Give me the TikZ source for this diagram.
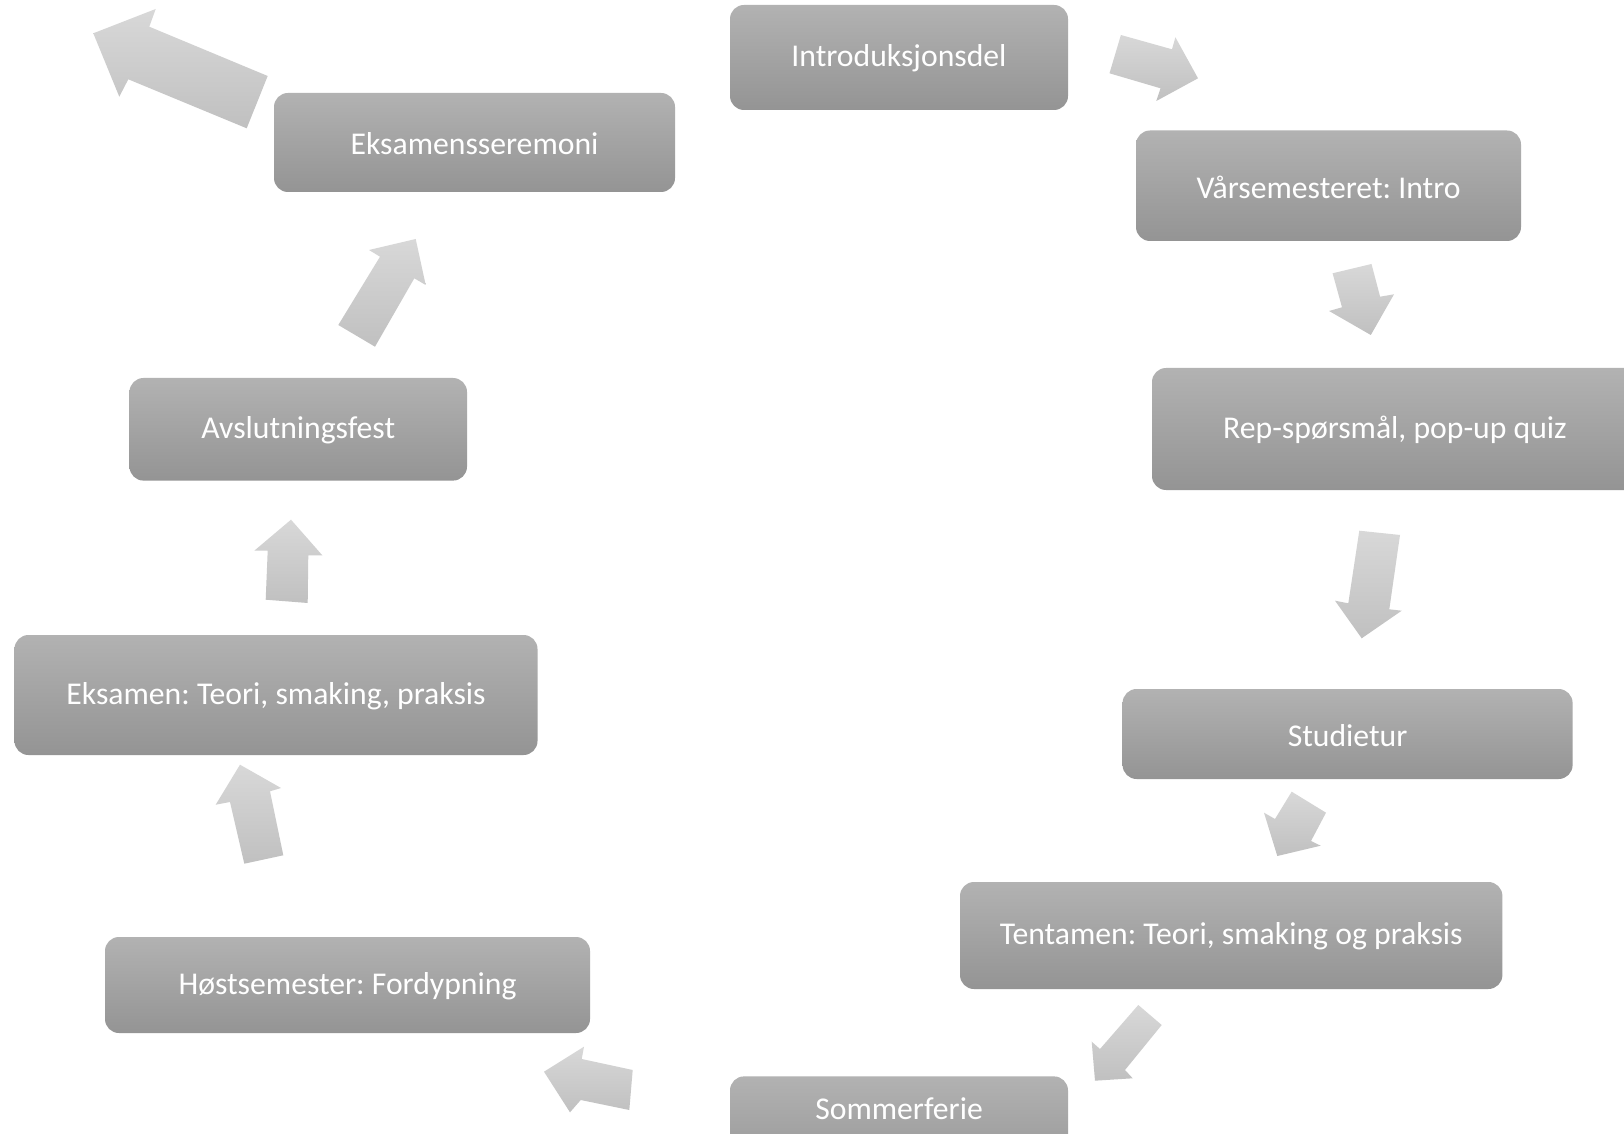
\documentclass[tikz,border=0pt]{standalone}
\usepackage{fontspec}
\setmainfont{Carlito}
\frenchspacing
\definecolor{boxtop}{RGB}{178,178,178}
\definecolor{boxbot}{RGB}{148,148,148}
\definecolor{arrtop}{RGB}{216,216,216}
\definecolor{arrbot}{RGB}{192,192,192}
\tikzset{
  stagebox/.style={rectangle, rounded corners=7pt, top color=boxtop, bottom color=boxbot, draw=none, inner sep=0pt},
  stagetext/.style={text=white, font=\fontsize{15.85pt}{19pt}\selectfont, inner sep=0pt, yshift=-0.6pt},
  blockarrow/.style={top color=arrtop, bottom color=arrbot, draw=none}
}
\begin{document}
\begin{tikzpicture}[x=0.5pt, y=-0.5pt]
\useasboundingbox[fill=white] (0,0) rectangle (1624,1134);
\clip (0,0) rectangle (1624,1134);

% boxes
\node[stagebox, minimum width=169pt, minimum height=52.5pt] (intro) at (899,57.5) {};
\node[stagetext] (introtxt) at (intro.center) {Introduksjonsdel};

\node[stagebox, minimum width=200.5pt, minimum height=49.5pt] (seremoni) at (474.5,142.5) {};
\node[stagetext] (seremonitxt) at (seremoni.center) {Eksamensseremoni};

\node[stagebox, minimum width=192.5pt, minimum height=55.25pt] (vaar) at (1328.5,185.75) {};
\node[stagetext] (vaartxt) at (vaar.center) {Vårsemesteret: Intro};

\node[stagebox, minimum width=243pt, minimum height=61pt] (rep) at (1395,429) {};
\node[stagetext] (reptxt) at (rep.center) {Rep-spørsmål, pop-up quiz};

\node[stagebox, minimum width=168.75pt, minimum height=51.3pt] (avsl) at (298.25,429.3) {};
\node[stagetext] (avsltxt) at (avsl.center) {Avslutningsfest};

\node[stagebox, minimum width=261.5pt, minimum height=60pt] (eksamen) at (276,695) {};
\node[stagetext] (eksamentxt) at (eksamen.center) {Eksamen: Teori, smaking, praksis};

\node[stagebox, minimum width=225pt, minimum height=45pt] (studietur) at (1347.6,734) {};
\node[stagetext] (studieturtxt) at (studietur.center) {Studietur};

\node[stagebox, minimum width=271.2pt, minimum height=53.5pt] (tentamen) at (1231.2,935.5) {};
\node[stagetext] (tentamentxt) at (tentamen.center) {Tentamen: Teori, smaking og praksis};

\node[stagebox, minimum width=242.5pt, minimum height=48pt] (hoest) at (347.5,985) {};
\node[stagetext] (hoesttxt) at (hoest.center) {Høstsemester: Fordypning};

\node[stagebox, minimum width=169pt, minimum height=52.5pt, anchor=north] (sommer) at (899,1076) {};
\node[stagetext] (sommertxt) at (899,1107) {Sommerferie};

% block arrows
\shade[blockarrow] (93.3,33.3) -- (155.7,9) -- (149.3,26.7) -- (267.7,76) -- (246.7,128.3) -- (128.3,79.3) -- (119.3,96.7) -- cycle;
\shade[blockarrow] (1120.9,35) -- (1172,49.3) -- (1175.4,37.3) -- (1198,78.3) -- (1156.3,101) -- (1160.5,88.3) -- (1109.5,73.3) -- cycle;
\shade[blockarrow] (1332.6,273.3) -- (1371.5,264) -- (1380.1,296.7) -- (1394,294.3) -- (1370.8,335) -- (1329.1,311) -- (1342,307.3) -- cycle;
\shade[blockarrow] (1359.3,530.7) -- (1400,535) -- (1389.3,609.3) -- (1401.7,610.7) -- (1361.7,638.3) -- (1335,600.7) -- (1348.3,603.3) -- cycle;
\shade[blockarrow] (1291.7,791.7) -- (1326,812.7) -- (1311,841) -- (1320.7,845.7) -- (1277.3,856) -- (1264,812.7) -- (1275,819) -- cycle;
\shade[blockarrow] (1138.3,1005) -- (1161.7,1025) -- (1125,1070) -- (1132.7,1078.3) -- (1095,1080.7) -- (1091.7,1041.7) -- (1100,1049) -- cycle;
\shade[blockarrow] (632.7,1070) -- (629.3,1110) -- (580.7,1100) -- (570,1112.3) -- (544,1071.7) -- (584,1046.7) -- (581.7,1059) -- cycle;
\shade[blockarrow] (240,764.7) -- (281,788) -- (270,791.3) -- (283.3,855.3) -- (244.3,863.7) -- (230,802) -- (215.7,804.7) -- cycle;
\shade[blockarrow] (291,519.7) -- (322.3,555.3) -- (308.3,555.3) -- (307.7,603) -- (265.7,599.7) -- (267.7,550.7) -- (254.3,550.7) -- cycle;
\shade[blockarrow] (415.7,239) -- (425.7,285) -- (414.3,278.3) -- (375,346.7) -- (338.3,325) -- (380,256.7) -- (369,250) -- cycle;
\end{tikzpicture}
\end{document}
